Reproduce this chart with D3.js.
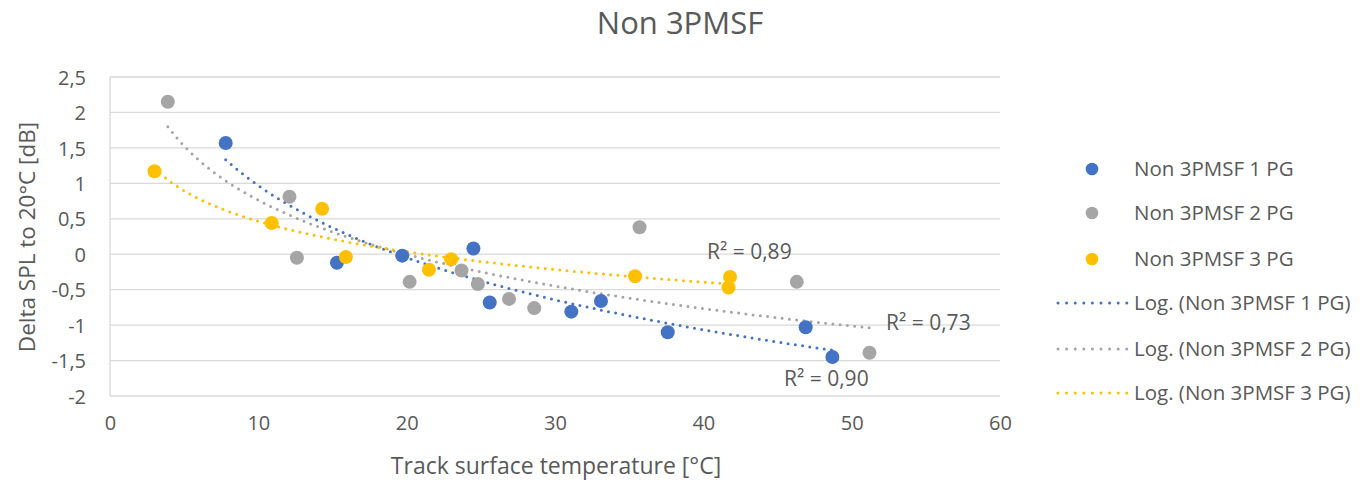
<!DOCTYPE html>
<html><head><meta charset="utf-8">
<script src="https://cdn.jsdelivr.net/npm/d3@7/dist/d3.min.js"></script>
<style>body{margin:0;background:#fff;} text{font-family:"Open Sans","Noto Sans",sans-serif;fill:#595959;}</style>
</head><body><svg id="c" width="1371" height="483"></svg>
<script>
const seriesNames = ["Non 3PMSF 1 PG","Non 3PMSF 2 PG","Non 3PMSF 3 PG"];
const trendNames = ["Log. (Non 3PMSF 1 PG)","Log. (Non 3PMSF 2 PG)","Log. (Non 3PMSF 3 PG)"];
const colors = ["#4472C4","#A5A5A5","#FFC000"];
const s1x = [7.8,15.3,19.7,24.5,25.6,31.1,33.1,37.6,46.9,48.7];
const s1y = [1.57,-0.12,-0.02,0.08,-0.68,-0.81,-0.66,-1.10,-1.03,-1.45];
const s2x = [3.9,12.1,12.6,20.2,23.7,24.8,26.9,28.6,35.7,46.3,51.2];
const s2y = [2.15,0.81,-0.05,-0.39,-0.23,-0.42,-0.63,-0.76,0.38,-0.39,-1.39];
const s3x = [3.0,10.9,14.3,15.9,21.5,23.0,35.4,41.8,41.7];
const s3y = [1.17,0.44,0.64,-0.04,-0.22,-0.07,-0.31,-0.32,-0.47];
const r2Labels = ["R² = 0,90","R² = 0,73","R² = 0,89"];
const xTicks = [0,10,20,30,40,50,60];
const yTicks = [-2,-1.5,-1,-0.5,0,0.5,1,1.5,2,2.5];

const svg = d3.select("#c");
const L=110,R=1000,T=77,B=396;
const x = d3.scaleLinear().domain([0,60]).range([L,R]);
const y = d3.scaleLinear().domain([-2,2.5]).range([B,T]);
const fmt = v => String(v).replace(".",",");

// grid
svg.append("g").selectAll("line").data(yTicks).join("line")
  .attr("x1",L).attr("x2",R).attr("y1",d=>y(d)).attr("y2",d=>y(d))
  .attr("stroke","#D9D9D9").attr("stroke-width",1.3);
svg.append("line").attr("x1",L).attr("x2",L).attr("y1",T).attr("y2",B).attr("stroke","#D9D9D9").attr("stroke-width",1.3);

// axes labels via d3 axes
const yAxis = svg.append("g").attr("transform",`translate(${L-24},0)`)
  .call(d3.axisLeft(y).tickValues(yTicks).tickFormat(fmt).tickSize(0));
yAxis.select(".domain").remove();
yAxis.selectAll("text").attr("font-size",20).attr("fill","#595959").attr("dy","0.36em").attr("x",0);
const xAxis = svg.append("g").attr("transform",`translate(0,${B+20})`)
  .call(d3.axisBottom(x).tickValues(xTicks).tickFormat(fmt).tickSize(0));
xAxis.select(".domain").remove();
xAxis.selectAll("text").attr("font-size",20).attr("fill","#595959").attr("y",0).attr("dy","0.71em");

svg.append("text").attr("x",680).attr("y",34).attr("text-anchor","middle").attr("font-size",31).text("Non 3PMSF");
svg.append("text").attr("transform","translate(35,237) rotate(-90)").attr("text-anchor","middle").attr("font-size",22.5).text("Delta SPL to 20°C [dB]");
svg.append("text").attr("x",556).attr("y",474).attr("text-anchor","middle").attr("font-size",23).text("Track surface temperature [°C]");

const series = [[s1x,s1y],[s2x,s2y],[s3x,s3y]];
// log regression
function logFit(xs,ys){
  const lx = xs.map(Math.log);
  const mx=d3.mean(lx), my=d3.mean(ys);
  let sxy=0,sxx=0; lx.forEach((v,i)=>{sxy+=(v-mx)*(ys[i]-my);sxx+=(v-mx)*(v-mx);});
  const a=sxy/sxx,b=my-a*mx; return {a,b};
}
const trendG = svg.append("g");
series.forEach(([xs,ys],i)=>{
  const f = logFit(xs,ys);
  const pts = d3.range(0,101).map(k=>{const xv=d3.min(xs)+(d3.max(xs)-d3.min(xs))*k/100; return [xv,f.a*Math.log(xv)+f.b];});
  trendG.append("path").attr("d",d3.line().x(d=>x(d[0])).y(d=>y(d[1]))(pts))
    .attr("fill","none").attr("stroke",colors[i]).attr("stroke-width",3)
    .attr("stroke-linecap","round").attr("stroke-dasharray","0 7.3");
});
// points
series.forEach(([xs,ys],i)=>{
  svg.append("g").selectAll("circle").data(xs.map((v,k)=>[v,ys[k]])).join("circle")
    .attr("cx",d=>x(d[0])).attr("cy",d=>y(d[1])).attr("r",7).attr("fill",colors[i]);
});
// R² labels
const r2Pos = [[784,386],[886,330],[707,259]];
r2Labels.forEach((t,i)=>svg.append("text").attr("x",r2Pos[i][0]).attr("y",r2Pos[i][1]).attr("font-size",21).text(t));

// legend
const lg = svg.append("g");
const legY = [169,213,259,303,349,393];
seriesNames.forEach((n,i)=>{
  lg.append("circle").attr("cx",1092).attr("cy",legY[i]).attr("r",6.3).attr("fill",colors[i]);
  lg.append("text").attr("x",1134).attr("y",legY[i]).attr("dy","0.36em").attr("font-size",20.5).text(n);
});
trendNames.forEach((n,i)=>{
  lg.append("line").attr("x1",1058).attr("x2",1127).attr("y1",legY[i+3]).attr("y2",legY[i+3])
   .attr("stroke",colors[i]).attr("stroke-width",3).attr("stroke-linecap","round").attr("stroke-dasharray","0 8.6");
  lg.append("text").attr("x",1134).attr("y",legY[i+3]).attr("dy","0.36em").attr("font-size",20.5).text(n);
});
</script></body></html>
